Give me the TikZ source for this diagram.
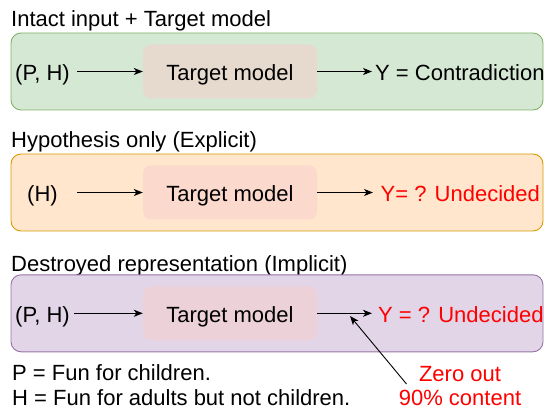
\documentclass[tikz,border=0pt]{standalone}
\usepackage{fontspec}
\setmainfont{Liberation Sans}
\usetikzlibrary{arrows.meta}
\definecolor{gfill}{HTML}{D5E8D4}\definecolor{gline}{HTML}{82B366}
\definecolor{ofill}{HTML}{FFE6CC}\definecolor{oline}{HTML}{D79B00}
\definecolor{pfill}{HTML}{E1D5E7}\definecolor{pline}{HTML}{9673A6}
\definecolor{tmfill}{HTML}{F8CECC}
\definecolor{redtxt}{HTML}{FF0000}
\begin{document}
\begin{tikzpicture}[x=1pt,y=-1pt,
  every node/.style={font=\fontsize{22}{26}\selectfont, inner sep=0pt},
  outerbox/.style={draw, line width=0.9pt, rounded corners=10pt, minimum width=532pt, minimum height=77pt},
  tmbox/.style={fill=tmfill, fill opacity=0.5, text opacity=1, rounded corners=8pt, minimum width=174pt, minimum height=54pt},
  lbl/.style={anchor=base west},
  arr/.style={-{Stealth[length=9pt,width=7pt,inset=2.5pt]}, line width=0.9pt},
]
\useasboundingbox (0,0) rectangle (544,409);
% titles
\node[lbl] (t1) at (11,27) {Intact input + Target model};
\node[lbl] (t2) at (11,147.5) {Hypothesis only (Explicit)};
\node[lbl] (t3) at (11,271) {Destroyed representation (Implicit)};
% outer boxes
\node[outerbox, draw=gline, fill=gfill] (b1) at (277,71.5) {};
\node[outerbox, draw=oline, fill=ofill] (b2) at (277,192.5) {};
\node[outerbox, draw=pline, fill=pfill] (b3) at (277,313.3) {};
% target model boxes
\node[tmbox] (m1) at (230,71.5) {};
\node[tmbox] (m2) at (230,192.5) {};
\node[tmbox] (m3) at (230,313.3) {};
\node[anchor=base] (m1t) at (230,80.5) {Target model};
\node[anchor=base] (m2t) at (230,201.5) {Target model};
\node[anchor=base] (m3t) at (230,322.3) {Target model};
% inputs
\node[lbl] (i1) at (15,80.5) {(P, H)};
\node[lbl] (i2) at (27,201.5) {(H)};
\node[lbl] (i3) at (15,322.3) {(P, H)};
% outputs
\node[lbl] (o1) at (375,80.5) {Y = Contradiction};
\node[lbl, text=redtxt] (o2) at (380.5,201.5) {Y= ? Undecided};
\node[lbl, text=redtxt] (o3) at (378,322.3) {Y = ? Undecided};
% arrows
\coordinate (a1s) at (77,71.5);
\coordinate (a2s) at (77,192.5);
\coordinate (a3s) at (74,313.3);
\coordinate (e1) at (372,71.5);
\coordinate (e2) at (373,192.5);
\coordinate (e3) at (372,313.3);
\draw[arr] (a1s) -- (m1.west);
\draw[arr] (a2s) -- (m2.west);
\draw[arr] (a3s) -- (m3.west);
\draw[arr] (m1.east) -- (e1);
\draw[arr] (m2.east) -- (e2);
\draw[arr] (m3.east) -- (e3);
% notes
\node[lbl] (p) at (12,380) {P = Fun for children.};
\node[lbl] (h) at (12,405.5) {H = Fun for adults but not children.};
\node[anchor=base, text=redtxt] (z1) at (460,381) {Zero out};
\node[anchor=base, text=redtxt] (z2) at (460,405) {90\% content};
\coordinate (zs) at (406.5,384);
\coordinate (zt) at (350,316);
\draw[arr] (zs) -- (zt);
\end{tikzpicture}
\end{document}
